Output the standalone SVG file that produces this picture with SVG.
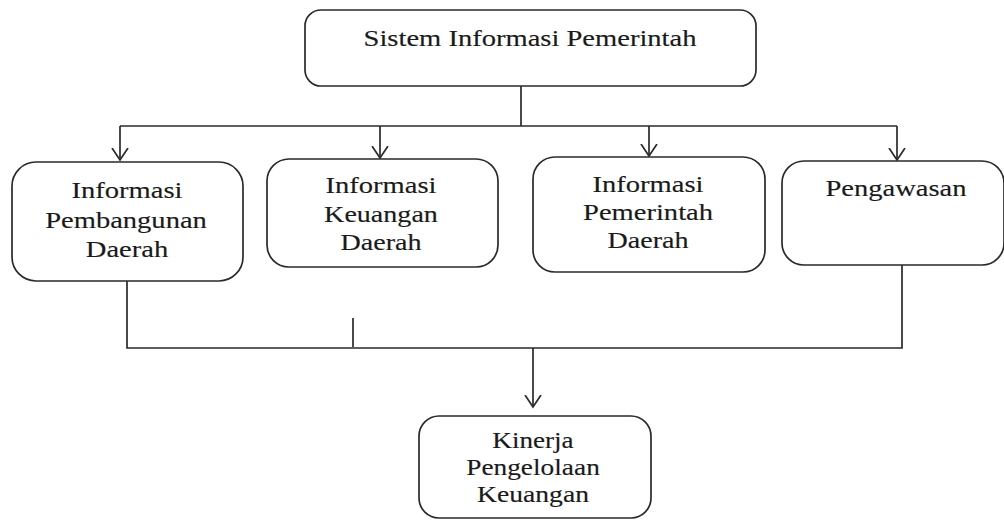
<svg xmlns="http://www.w3.org/2000/svg" width="1004" height="520" viewBox="0 0 1004 520">
<style>
.box{fill:#fff;stroke:#2a2a2a;stroke-width:1.7}
.t{font-family:'Liberation Serif',Tinos,'Times New Roman',Times,serif;font-size:24px;fill:#1a1a1a;stroke:#1a1a1a;stroke-width:0.15;text-anchor:middle}
.c{fill:none;stroke:#2a2a2a;stroke-width:1.7}
</style>
<defs>
<marker id="ah" markerUnits="userSpaceOnUse" markerWidth="24" markerHeight="24" viewBox="-12 -12 24 24" refX="0" refY="0" orient="auto">
<path d="M-12,-8 L0,0 L-12,8" fill="none" stroke="#2a2a2a" stroke-width="1.7"/>
</marker>
</defs>
<rect width="1004" height="520" fill="#fff"/>
<g id="connectors">
<path class="c" d="M521,86 V126"/>
<path class="c" d="M120,126 H897"/>
<path class="c" d="M120,126 V160" marker-end="url(#ah)"/>
<path class="c" d="M380,126 V158" marker-end="url(#ah)"/>
<path class="c" d="M649,126 V156" marker-end="url(#ah)"/>
<path class="c" d="M897,126 V160" marker-end="url(#ah)"/>
<path class="c" d="M127,281 V348 H902 V265"/>
<path class="c" d="M353,318 V347"/>
<path class="c" d="M533,348 V407" marker-end="url(#ah)"/>
</g>
<g id="n-top">
<rect class="box" x="305" y="10" width="451" height="76" rx="16"/>
<text class="t" transform="translate(530,46) scale(1.19,1)">Sistem Informasi Pemerintah</text>
</g>
<g id="n-pembangunan">
<rect class="box" x="12" y="162" width="231" height="119" rx="24"/>
<text class="t" transform="translate(127,198) scale(1.19,1)">Informasi</text>
<text class="t" transform="translate(126,228) scale(1.19,1)">Pembangunan</text>
<text class="t" transform="translate(127,257) scale(1.19,1)">Daerah</text>
</g>
<g id="n-keuangan">
<rect class="box" x="267" y="159" width="231" height="108" rx="22"/>
<text class="t" transform="translate(381,193) scale(1.19,1)">Informasi</text>
<text class="t" transform="translate(381,222) scale(1.17,1)">Keuangan</text>
<text class="t" transform="translate(381,250) scale(1.17,1)">Daerah</text>
</g>
<g id="n-pemerintah">
<rect class="box" x="533" y="157" width="232" height="115" rx="22"/>
<text class="t" transform="translate(648,192) scale(1.19,1)">Informasi</text>
<text class="t" transform="translate(648,220) scale(1.19,1)">Pemerintah</text>
<text class="t" transform="translate(648,248) scale(1.17,1)">Daerah</text>
</g>
<g id="n-pengawasan">
<rect class="box" x="782" y="161" width="222" height="104" rx="22"/>
<text class="t" transform="translate(896,196) scale(1.19,1)">Pengawasan</text>
</g>
<g id="n-kinerja">
<rect class="box" x="419" y="416" width="232" height="102" rx="20"/>
<text class="t" transform="translate(533,448) scale(1.13,1)">Kinerja</text>
<text class="t" transform="translate(533,475) scale(1.14,1)">Pengelolaan</text>
<text class="t" transform="translate(533,502) scale(1.15,1)">Keuangan</text>
</g>
</svg>
